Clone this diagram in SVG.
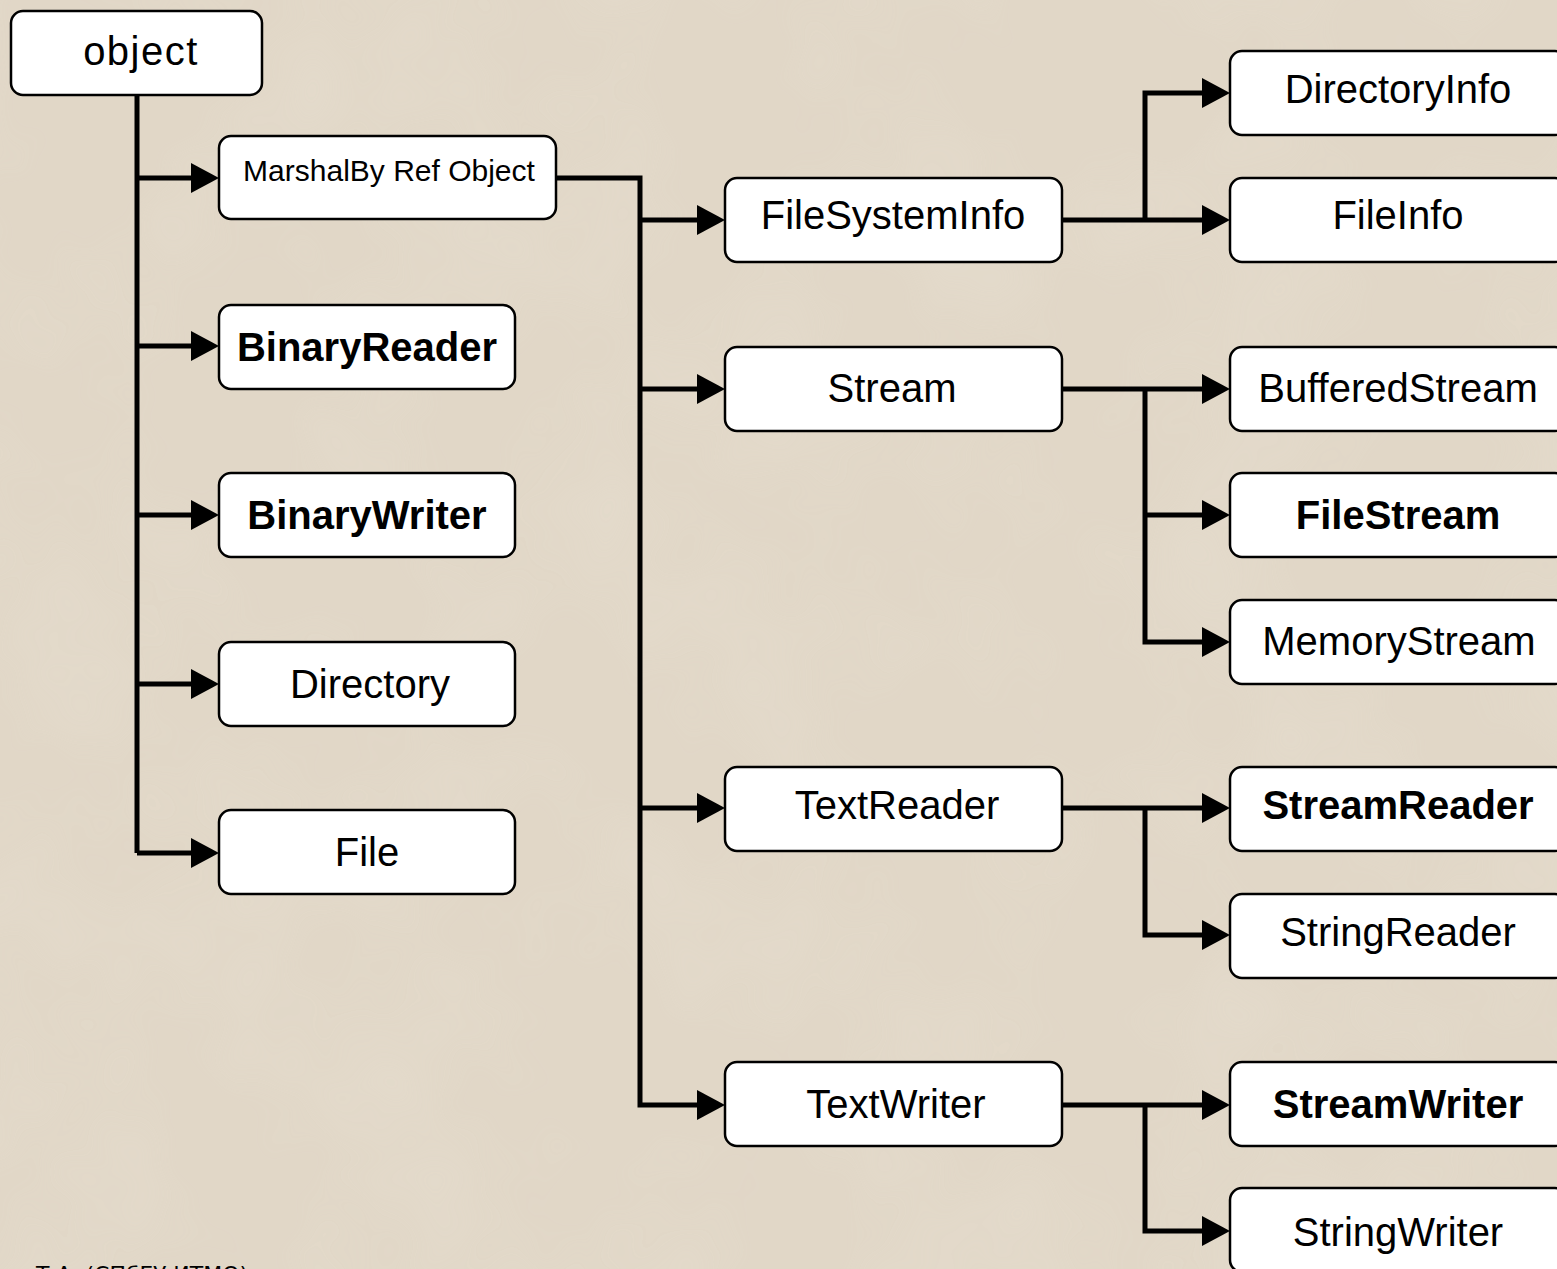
<svg xmlns="http://www.w3.org/2000/svg" width="1557" height="1269" viewBox="0 0 1557 1269">
<style>
.box{fill:#ffffff;stroke:#000000;stroke-width:2.5}
.t{font-family:"Liberation Sans",Arial,sans-serif;font-size:40px;fill:#000;text-anchor:middle}
.b{font-weight:bold}
.c{fill:none;stroke:#000;stroke-width:5;stroke-linejoin:miter}
</style>
<defs>
<marker id="arr" markerUnits="userSpaceOnUse" markerWidth="30" markerHeight="32" refX="0" refY="15" orient="auto">
<path d="M0,0 L28,15 L0,30 z" fill="#000"/>
</marker>
<filter id="tex" x="0" y="0" width="100%" height="100%">
<feTurbulence type="fractalNoise" baseFrequency="0.006" numOctaves="3" seed="4"/>
<feColorMatrix type="matrix" values="0 0 0 0 0.80  0 0 0 0 0.74  0 0 0 0 0.64  0 0 0 1.4 -0.55"/>
</filter>
</defs>
<rect width="1557" height="1269" fill="#e1d7c7"/>
<rect width="1557" height="1269" filter="url(#tex)" opacity="0.6"/>
<g id="connectors" class="c">
<path d="M137,95 V853"/>
<path d="M137,178 H191" marker-end="url(#arr)"/>
<path d="M137,346 H191" marker-end="url(#arr)"/>
<path d="M137,515 H191" marker-end="url(#arr)"/>
<path d="M137,684 H191" marker-end="url(#arr)"/>
<path d="M137,853 H191" marker-end="url(#arr)"/>
<path d="M556,178 H640 V1105 H697" marker-end="url(#arr)"/>
<path d="M640,220 H697" marker-end="url(#arr)"/>
<path d="M640,389 H697" marker-end="url(#arr)"/>
<path d="M640,808 H697" marker-end="url(#arr)"/>
<path d="M1062,220 H1202" marker-end="url(#arr)"/>
<path d="M1145,220 V93 H1202" marker-end="url(#arr)"/>
<path d="M1062,389 H1202" marker-end="url(#arr)"/>
<path d="M1145,389 V642 H1202" marker-end="url(#arr)"/>
<path d="M1145,515 H1202" marker-end="url(#arr)"/>
<path d="M1062,808 H1202" marker-end="url(#arr)"/>
<path d="M1145,808 V935 H1202" marker-end="url(#arr)"/>
<path d="M1062,1105 H1202" marker-end="url(#arr)"/>
<path d="M1145,1105 V1231 H1202" marker-end="url(#arr)"/>
</g>
<g id="object"><rect class="box" x="11" y="11" width="251" height="84" rx="12"/><text class="t" x="141" y="65" letter-spacing="1.5">object</text></g>
<g id="marshal"><rect class="box" x="219" y="136" width="337" height="83" rx="12"/><text class="t" x="389" y="181" style="font-size:30px">MarshalBy Ref Object</text></g>
<g id="binaryreader"><rect class="box" x="219" y="305" width="296" height="84" rx="12"/><text class="t b" x="367" y="361">BinaryReader</text></g>
<g id="binarywriter"><rect class="box" x="219" y="473" width="296" height="84" rx="12"/><text class="t b" x="367" y="529">BinaryWriter</text></g>
<g id="directory"><rect class="box" x="219" y="642" width="296" height="84" rx="12"/><text class="t" x="370" y="698">Directory</text></g>
<g id="file"><rect class="box" x="219" y="810" width="296" height="84" rx="12"/><text class="t" x="367" y="866">File</text></g>
<g id="filesysteminfo"><rect class="box" x="725" y="178" width="337" height="84" rx="12"/><text class="t" x="893" y="229">FileSystemInfo</text></g>
<g id="stream"><rect class="box" x="725" y="347" width="337" height="84" rx="12"/><text class="t" x="892" y="402">Stream</text></g>
<g id="textreader"><rect class="box" x="725" y="767" width="337" height="84" rx="12"/><text class="t" x="897" y="819">TextReader</text></g>
<g id="textwriter"><rect class="box" x="725" y="1062" width="337" height="84" rx="12"/><text class="t" x="896" y="1118">TextWriter</text></g>
<g id="directoryinfo"><rect class="box" x="1230" y="51" width="337" height="84" rx="12"/><text class="t" x="1398" y="103">DirectoryInfo</text></g>
<g id="fileinfo"><rect class="box" x="1230" y="178" width="337" height="84" rx="12"/><text class="t" x="1398" y="229">FileInfo</text></g>
<g id="bufferedstream"><rect class="box" x="1230" y="347" width="337" height="84" rx="12"/><text class="t" x="1398" y="402">BufferedStream</text></g>
<g id="filestream"><rect class="box" x="1230" y="473" width="337" height="84" rx="12"/><text class="t b" x="1398" y="529">FileStream</text></g>
<g id="memorystream"><rect class="box" x="1230" y="600" width="337" height="84" rx="12"/><text class="t" x="1399" y="655">MemoryStream</text></g>
<g id="streamreader"><rect class="box" x="1230" y="767" width="337" height="84" rx="12"/><text class="t b" x="1398" y="819">StreamReader</text></g>
<g id="stringreader"><rect class="box" x="1230" y="894" width="337" height="84" rx="12"/><text class="t" x="1398" y="946">StringReader</text></g>
<g id="streamwriter"><rect class="box" x="1230" y="1062" width="337" height="84" rx="12"/><text class="t b" x="1398" y="1118">StreamWriter</text></g>
<g id="stringwriter"><rect class="box" x="1230" y="1188" width="337" height="84" rx="12"/><text class="t" x="1398" y="1246">StringWriter</text></g>
<text x="36" y="1282" style="font-family:'DejaVu Sans',sans-serif;font-size:22px;fill:#000">Т.А. (СПбГУ ИТМО)</text>
</svg>
